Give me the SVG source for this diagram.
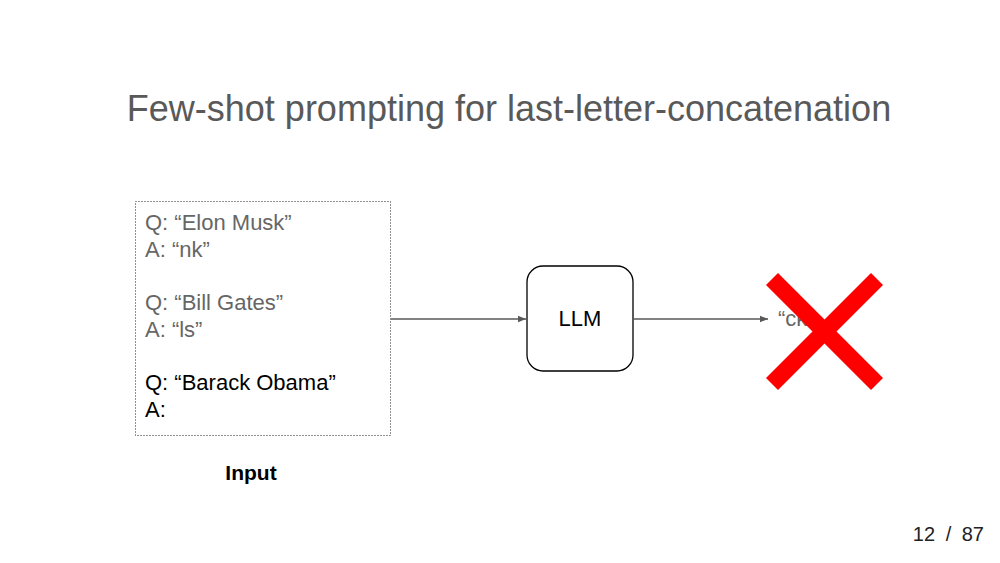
<svg xmlns="http://www.w3.org/2000/svg" width="1000" height="563" viewBox="0 0 1000 563">
<style>
text{font-family:"Liberation Sans",Arial,sans-serif}
.t{font-size:22px}
.g{fill:#666666}
.k{fill:#000000}
.conn{stroke:#595959;stroke-width:1.3;fill:none}
</style>
<defs>
<marker id="ah" viewBox="0 0 10 10" refX="10" refY="5" markerWidth="8" markerHeight="8" markerUnits="userSpaceOnUse" orient="auto">
<path d="M0,1 L10,5 L0,9 z" fill="#595959"/>
</marker>
</defs>
<rect width="1000" height="563" fill="#ffffff"/>
<text x="509" y="121" font-size="36" fill="#595959" text-anchor="middle">Few-shot prompting for last-letter-concatenation</text>
<g id="input">
<rect x="135.5" y="201.5" width="255" height="234" fill="none" stroke="#222" stroke-width="1" stroke-dasharray="1,2"/>
<text class="t g" x="145" y="230">Q: “Elon Musk”</text>
<text class="t g" x="145" y="257">A: “nk”</text>
<text class="t g" x="145" y="310">Q: “Bill Gates”</text>
<text class="t g" x="145" y="337">A: “ls”</text>
<text class="t k" x="145" y="390">Q: “Barack Obama”</text>
<text class="t k" x="145" y="417">A:</text>
<text x="251" y="480" font-size="21" font-weight="bold" text-anchor="middle">Input</text>
</g>
<g id="llm">
<rect x="527" y="266" width="106" height="105" rx="16" fill="#fff" stroke="#000" stroke-width="1.3"/>
<text class="t k" x="580" y="326" text-anchor="middle">LLM</text>
</g>
<g id="output">
<text class="t g" x="778" y="326">“ck”</text>
</g>
<g id="connectors">
<line class="conn" x1="391" y1="319" x2="526" y2="319" marker-end="url(#ah)"/>
<line class="conn" x1="633" y1="319" x2="768" y2="319" marker-end="url(#ah)"/>
</g>
<g id="cross">
<line x1="772" y1="279" x2="877" y2="384" stroke="#ff0000" stroke-width="17"/>
<line x1="877" y1="279" x2="772" y2="384" stroke="#ff0000" stroke-width="17"/>
</g>
<text x="984" y="541" font-size="20" fill="#222" text-anchor="end" word-spacing="5">12 / 87</text>
</svg>
